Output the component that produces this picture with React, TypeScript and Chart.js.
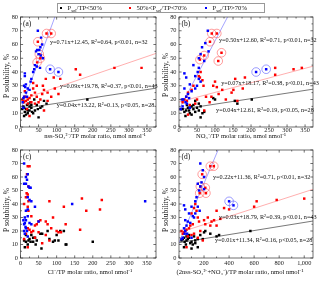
import React, { useEffect, useRef } from "react";
import { Chart, registerables } from "chart.js";
Chart.register(...registerables);

const FONT = "'Liberation Serif', 'Times New Roman', Times, serif";
const W = 320;
const H = 283;

// ---------- tick labels ----------
const Y_TICKS = [0, 10, 20, 30, 40, 50, 60, 70, 80];
const X_TICKS_350 = [0, 50, 100, 150, 200, 250, 300, 350];
const X_TICKS_1000 = [0, 200, 400, 600, 800, 1000];

// ---------- panel (a): nss-SO4 2- / TP ----------
const aBlackX = [5, 8, 10, 10, 12, 15, 15, 18, 20, 20, 22, 25, 25, 28, 30, 30, 32, 35, 38, 40, 45, 48, 50, 55, 60, 65, 72, 185];
const aBlackY = [13, 15, 8, 14, 11, 13, 9, 16, 10, 12, 17, 12, 15, 18, 14, 16, 11, 10, 20, 12, 16, 13, 7, 14, 15, 19, 17, 20];
const aRedX = [48, 72, 85, 52, 55, 46, 153, 165, 260, 335, 92, 105, 110, 85, 95, 75, 65, 60, 62, 70, 45, 40, 35, 30, 25, 20, 15, 12, 10, 8, 5, 30, 40, 50, 55, 75, 45, 35, 18, 25, 12, 20, 65];
const aRedY = [62, 68, 68, 53, 50, 47, 42, 38, 43, 43, 36, 24, 35, 22, 28, 25, 27, 24, 30, 35, 22, 25, 28, 23, 21, 20, 19, 22, 18, 19, 20, 18, 17, 18, 20, 19, 30, 32, 13, 8, 26, 17, 12];
const aBlueX = [48, 57, 60, 55, 52, 46, 43, 50, 56, 62, 40, 45, 38, 35, 12, 12, 54, 30, 28, 15, 10, 13, 20, 25, 15, 10, 8, 18, 6, 8, 82, 105];
const aBlueY = [70, 65, 60, 58, 56, 56, 55, 53, 52, 50, 45, 44, 42, 40, 39, 37, 43, 35, 33, 31, 30, 29, 28, 27, 25, 22, 21, 22, 18, 14, 42, 40];
const aRingRedX = [48, 72, 85, 52, 55, 46];
const aRingRedY = [62, 68, 68, 53, 50, 47];
const aRingBlueX = [82, 105];
const aRingBlueY = [42, 40];
const aSlopes = [0.71, 0.09, 0.04];
const aIntercepts = [12.45, 19.78, 13.22];
const aNotes = ["y=0.71x+12.45, R²=0.64, p<0.01, n=32", "y=0.09x+19.78, R²=0.37, p<0.01, n=43", "y=0.04x+13.22, R²=0.13, p<0.05, n=28"];

// ---------- panel (b): NO3- / TP ----------
const bBlackX = [5, 10, 15, 18, 20, 22, 25, 28, 30, 30, 35, 35, 40, 40, 45, 45, 50, 55, 55, 60, 60, 65, 70, 95, 100, 155, 162, 202];
const bBlackY = [13, 13, 11, 8, 12, 16, 14, 12, 14, 10, 15, 9, 13, 16, 11, 19, 14, 12, 17, 15, 7, 10, 11, 21, 20, 19, 17, 20];
const bRedX = [91, 105, 86, 58, 70, 118, 109, 267, 267, 318, 341, 183, 156, 151, 146, 177, 162, 60, 55, 58, 65, 68, 40, 35, 25, 20, 15, 22, 10, 45, 30, 25, 50, 75, 85, 70, 105, 95, 120, 130, 110, 90, 100];
const bRedY = [68, 68, 62, 49, 52, 54, 48, 43, 38, 42, 43, 36, 35, 27, 25, 28, 19, 40, 37, 36, 34, 30, 30, 27, 25, 22, 20, 19, 18, 17, 16, 9, 20, 22, 18, 12, 29, 30, 27, 20, 24, 22, 33];
const bBlueX = [80, 73, 64, 82, 60, 55, 70, 55, 52, 45, 15, 20, 55, 60, 30, 50, 45, 15, 35, 25, 20, 12, 18, 22, 10, 30, 5, 40, 28, 8, 214, 242];
const bBlueY = [70, 61, 58, 55, 53, 50, 48, 43, 40, 37, 39, 36, 35, 33, 31, 30, 28, 28, 26, 24, 22, 20, 18, 17, 15, 14, 13, 45, 21, 20, 40, 42];
const bRingRedX = [91, 105, 86, 58, 70, 118, 109];
const bRingRedY = [68, 68, 62, 49, 52, 54, 48];
const bRingBlueX = [214, 242];
const bRingBlueY = [40, 42];
const bSlopes = [0.5, 0.07, 0.04];
const bIntercepts = [12.6, 18.17, 12.61];
const bNotes = ["y=0.50x+12.60, R²=0.71, p<0.01, n=32", "y=0.07x+18.17, R²=0.38, p<0.01, n=43", "y=0.04x+12.61, R²=0.19, p<0.05, n=28"];

// ---------- panel (c): Cl- / TP ----------
const cBlackX = [10, 12, 15, 15, 20, 22, 25, 28, 30, 35, 35, 40, 42, 45, 55, 58, 60, 75, 80, 90, 95, 100, 105, 110, 120, 125, 127, 200];
const cBlackY = [13, 8, 12, 17, 10, 13, 14, 12, 17, 12, 15, 15, 10, 13, 18, 7, 18, 20, 14, 12, 13, 17, 13, 20, 20, 10, 10, 12];
const cRedX = [20, 25, 18, 22, 17, 20, 15, 22, 10, 20, 22, 30, 80, 120, 170, 182, 220, 225, 165, 125, 100, 90, 85, 75, 70, 55, 50, 45, 40, 35, 30, 25, 20, 15, 10, 50, 60, 70, 80, 105, 112, 20, 40];
const cRedY = [68, 68, 62, 53, 48, 47, 45, 42, 40, 38, 35, 31, 42, 38, 44, 35, 36, 43, 21, 25, 20, 30, 22, 25, 27, 28, 27, 25, 24, 20, 19, 21, 22, 18, 14, 19, 11, 17, 13, 19, 19, 8, 15];
const cBlueX = [10, 15, 20, 18, 10, 15, 22, 25, 28, 20, 25, 30, 40, 20, 15, 12, 15, 20, 12, 10, 15, 18, 12, 30, 25, 50, 143, 345, 10, 20, 8, 14];
const cBlueY = [70, 60, 62, 58, 55, 55, 53, 52, 52, 45, 43, 42, 38, 36, 35, 30, 28, 31, 26, 25, 22, 20, 18, 25, 26, 27, 40, 42, 20, 16, 28, 23];

// ---------- panel (d): (2nss-SO4 2- + NO3-) / TP ----------
const dBlackX = [20, 30, 40, 40, 45, 55, 60, 60, 70, 80, 80, 90, 100, 100, 110, 120, 130, 130, 150, 150, 170, 190, 200, 210, 250, 300, 320, 570];
const dBlackY = [13, 14, 8, 15, 12, 10, 13, 16, 14, 15, 17, 11, 12, 7, 10, 16, 13, 11, 14, 8, 17, 14, 19, 20, 18, 16, 17, 20];
const dRedX = [250, 278, 185, 170, 210, 165, 215, 620, 600, 780, 1000, 400, 360, 300, 280, 260, 230, 250, 200, 210, 300, 330, 130, 120, 140, 100, 150, 160, 110, 90, 80, 60, 50, 40, 30, 20, 120, 150, 170, 190, 70, 60, 100];
const dRedY = [68, 68, 62, 53, 52, 48, 48, 42, 38, 43, 44, 36, 37, 35, 28, 27, 30, 24, 28, 25, 24, 29, 40, 37, 35, 33, 30, 27, 25, 24, 22, 21, 20, 19, 18, 20, 18, 15, 20, 13, 16, 8, 17];
const dBlueX = [170, 190, 200, 180, 150, 170, 160, 200, 140, 130, 100, 40, 50, 150, 165, 80, 120, 110, 50, 90, 60, 40, 50, 65, 30, 20, 100, 45, 70, 130, 400, 435];
const dBlueY = [70, 65, 60, 56, 55, 53, 50, 51, 45, 42, 38, 39, 36, 38, 35, 33, 30, 31, 28, 26, 24, 22, 20, 18, 15, 14, 15, 18, 27, 33, 42, 39];
const dRingRedX = [250, 278, 185, 170, 210, 165, 215];
const dRingRedY = [68, 68, 62, 53, 52, 48, 48];
const dRingBlueX = [400, 435];
const dRingBlueY = [42, 39];
const dSlopes = [0.22, 0.03, 0.015];
const dIntercepts = [11.36, 18.79, 11.34];
const dNotes = ["y=0.22x+11.36, R²=0.71, p<0.01, n=32", "y=0.03x+18.79, R²=0.39, p<0.01, n=43", "y=0.01x+11.34, R²=0.16, p<0.05, n=28"];

const Y_TITLE = "P solubility, %";

type Area = { l: number; r: number; t: number; b: number };
interface PanelDef {
  label: string;
  area: Area;
  xMax: number;
  xTicks: number[];
  xTitle: string;
  xTitlePos: [number, number];
  yTitlePos: [number, number];
  tickPad: number;
  black: [number[], number[]];
  red: [number[], number[]];
  blue: [number[], number[]];
  ringRed: [number[], number[]];
  ringBlue: [number[], number[]];
  slopes: number[];
  intercepts: number[];
  notes: string[];
  notePos: [number, number][];
}

const TOP: Area = { l: 20.5, r: 156, t: 17, b: 127 };
const TOPR: Area = { l: 179, r: 313, t: 17, b: 127 };
const BOT: Area = { l: 20.5, r: 156, t: 150, b: 258 };
const BOTR: Area = { l: 179, r: 313, t: 150, b: 258 };

const PANELS: PanelDef[] = [
  {
    label: "(a)", area: TOP, xMax: 375, xTicks: X_TICKS_350,
    xTitle: "nss-SO₄²⁻/TP molar ratio, nmol nmol⁻¹", xTitlePos: [95, 136.5], yTitlePos: [7.5, 76],
    tickPad: 0,
    black: [aBlackX, aBlackY], red: [aRedX, aRedY], blue: [aBlueX, aBlueY],
    ringRed: [aRingRedX, aRingRedY], ringBlue: [aRingBlueX, aRingBlueY],
    slopes: aSlopes, intercepts: aIntercepts, notes: aNotes,
    notePos: [[81.6, 61.6], [109, 29.8], [100, 16]],
  },
  {
    label: "(b)", area: TOPR, xMax: 372, xTicks: X_TICKS_350,
    xTitle: "NO₃⁻/TP molar ratio, nmol nmol⁻¹", xTitlePos: [241, 136.5], yTitlePos: [166.5, 75],
    tickPad: 0,
    black: [bBlackX, bBlackY], red: [bRedX, bRedY], blue: [bBlueX, bBlueY],
    ringRed: [bRingRedX, bRingRedY], ringBlue: [bRingBlueX, bRingBlueY],
    slopes: bSlopes, intercepts: bIntercepts, notes: bNotes,
    notePos: [[111, 62.9], [117, 32], [103, 12.4]],
  },
  {
    label: "(c)", area: BOT, xMax: 375, xTicks: X_TICKS_350,
    xTitle: "Cl⁻/TP molar ratio, nmol nmol⁻¹", xTitlePos: [90, 272], yTitlePos: [7.5, 210],
    tickPad: 1.4,
    black: [cBlackX, cBlackY], red: [cRedX, cRedY], blue: [cBlueX, cBlueY],
    ringRed: [[], []], ringBlue: [[], []],
    slopes: [], intercepts: [], notes: [], notePos: [],
  },
  {
    label: "(d)", area: BOTR, xMax: 1070, xTicks: X_TICKS_1000,
    xTitle: "(2nss-SO₄²⁻+NO₃⁻)/TP molar ratio, nmol nmol⁻¹", xTitlePos: [240, 272], yTitlePos: [166.5, 210],
    tickPad: 1.4,
    black: [dBlackX, dBlackY], red: [dRedX, dRedY], blue: [dBlueX, dBlueY],
    ringRed: [dRingRedX, dRingRedY], ringBlue: [dRingBlueX, dRingBlueY],
    slopes: dSlopes, intercepts: dIntercepts, notes: dNotes,
    notePos: [[271, 60], [319, 30.4], [287, 13.3]],
  },
];

const zip = (xs: number[], ys: number[]) => xs.map((x, i) => ({ x, y: ys[i] }));

const framePlugin = {
  id: "frame",
  afterDatasetsDraw(chart: any, _args: any, opts: any) {
    const def: PanelDef = opts.def;
    const { ctx, chartArea: a, scales } = chart;
    const xs = scales.x;
    const ys = scales.y;
    ctx.save();
    ctx.strokeStyle = "#333";
    ctx.lineWidth = 0.7;
    ctx.strokeRect(a.left, a.top, a.right - a.left, a.bottom - a.top);
    const seg = (x1: number, y1: number, x2: number, y2: number) => {
      ctx.beginPath();
      ctx.moveTo(x1, y1);
      ctx.lineTo(x2, y2);
      ctx.stroke();
    };
    const xStep = def.xTicks[1] - def.xTicks[0];
    for (let v = 0; v <= xs.max + 1e-6; v += xStep / 2) {
      const major = Math.abs(v / xStep - Math.round(v / xStep)) < 1e-6;
      const len = major ? 2.6 : 1.5;
      const p = xs.getPixelForValue(v);
      seg(p, a.bottom, p, a.bottom - len);
      seg(p, a.top, p, a.top + len);
    }
    const yStep = Y_TICKS[1] - Y_TICKS[0];
    for (let v = 0; v <= ys.max + 1e-6; v += yStep / 2) {
      const major = Math.abs(v / yStep - Math.round(v / yStep)) < 1e-6;
      const len = major ? 2.6 : 1.5;
      const p = ys.getPixelForValue(v);
      seg(a.left, p, a.left + len, p);
      seg(a.right, p, a.right - len, p);
    }
    ctx.fillStyle = "#111";
    ctx.textBaseline = "middle";
    ctx.textAlign = "left";
    ctx.font = `6.2px ${FONT}`;
    def.notes.forEach((t, i) => {
      const [nx, ny] = def.notePos[i];
      ctx.fillText(t, xs.getPixelForValue(nx), ys.getPixelForValue(ny));
    });
    ctx.font = `7.5px ${FONT}`;
    ctx.fillText(def.label, a.left + 2.5, a.top + 7);
    // axis titles
    ctx.textAlign = "center";
    ctx.font = `6.6px ${FONT}`;
    ctx.fillText(def.xTitle, def.xTitlePos[0], def.xTitlePos[1]);
    ctx.font = `7.5px ${FONT}`;
    ctx.translate(def.yTitlePos[0], def.yTitlePos[1]);
    ctx.rotate(-Math.PI / 2);
    ctx.fillText(Y_TITLE, 0, 0);
    ctx.restore();
  },
};

function PanelChart({ def }: { def: PanelDef }) {
  const ref = useRef<HTMLCanvasElement>(null);
  useEffect(() => {
    const canvas = ref.current;
    if (!canvas) return;
    const yWidth = 18;
    const xHeight = 10;
    const pts = (d: [number[], number[]], color: string) => ({
      type: "scatter",
      data: zip(d[0], d[1]),
      backgroundColor: color,
      borderWidth: 0,
      pointStyle: "rect",
      pointRadius: 1.75,
      order: 0,
    });
    const rings = (d: [number[], number[]], color: string) => ({
      type: "scatter",
      data: zip(d[0], d[1]),
      backgroundColor: "rgba(0,0,0,0)",
      borderColor: color,
      borderWidth: 0.7,
      pointRadius: 4.3,
      order: 1,
    });
    const lineColors = ["#8e8eff", "#ff9a9a", "#555555"];
    const lines = def.slopes.map((s, i) => {
      const b = def.intercepts[i];
      const xEnd = Math.min(def.xMax, (80 - b) / s);
      return {
        type: "line",
        data: [{ x: 0, y: b }, { x: xEnd, y: s * xEnd + b }],
        borderColor: lineColors[i],
        borderWidth: 0.8,
        pointRadius: 0,
        fill: false,
        order: 5,
      };
    });
    const chart = new Chart(canvas, {
      type: "scatter",
      data: {
        datasets: [
          pts(def.blue, "#0000ff"),
          pts(def.red, "#ff0000"),
          pts(def.black, "#000000"),
          rings(def.ringRed, "rgba(255,90,90,0.85)"),
          rings(def.ringBlue, "rgba(90,90,255,0.85)"),
          ...lines,
        ] as any,
      },
      options: {
        animation: false,
        responsive: false,
        devicePixelRatio: 1,
        events: [],
        layout: {
          padding: {
            left: def.area.l - yWidth,
            top: def.area.t,
            right: W - def.area.r,
            bottom: H - def.area.b - xHeight,
          },
        },
        plugins: {
          legend: { display: false },
          tooltip: { enabled: false },
          frame: { def },
        } as any,
        scales: {
          x: {
            type: "linear",
            min: 0,
            max: def.xMax,
            afterBuildTicks: (s: any) => {
              s.ticks = def.xTicks.map((v) => ({ value: v }));
            },
            afterFit: (s: any) => {
              s.height = xHeight;
            },
            grid: { display: false, drawTicks: false, tickLength: 0 },
            border: { display: false },
            ticks: {
              autoSkip: false,
              maxRotation: 0,
              padding: def.tickPad,
              color: "#222",
              font: { family: FONT, size: 6.3 },
            },
            title: { display: false },
          },
          y: {
            type: "linear",
            min: 0,
            max: 80,
            afterBuildTicks: (s: any) => {
              s.ticks = Y_TICKS.map((v) => ({ value: v }));
            },
            afterFit: (s: any) => {
              s.width = yWidth;
            },
            grid: { display: false, drawTicks: false, tickLength: 0 },
            border: { display: false },
            ticks: {
              autoSkip: false,
              padding: 2.5,
              color: "#222",
              font: { family: FONT, size: 6.3 },
            },
            title: { display: false },
          },
        },
      } as any,
      plugins: [framePlugin],
    });
    return () => chart.destroy();
  }, [def]);
  return (
    <canvas
      ref={ref}
      width={W}
      height={H}
      style={{ position: "absolute", left: 0, top: 0, width: W, height: H }}
    />
  );
}

const LEGEND = [
  { color: "#000000", x: 61, pre: "", post: "/TP<50%" },
  { color: "#ff0000", x: 130, pre: "50%<", post: "/TP<70%" },
  { color: "#0000ff", x: 206, pre: "", post: "/TP>70%" },
];

function Legend() {
  return (
    <div>
      <div
        style={{
          position: "absolute",
          left: 57,
          top: 2.5,
          width: 208,
          height: 10.5,
          border: "0.8px solid #999",
          boxSizing: "border-box",
        }}
      />
      {LEGEND.map((it, i) => (
        <React.Fragment key={i}>
          <div
            style={{
              position: "absolute",
              left: it.x - 1.2,
              top: 6.6,
              width: 2.4,
              height: 2.4,
              background: it.color,
            }}
          />
          <div
            style={{
              position: "absolute",
              left: it.x + 6.5,
              top: 2.5,
              height: 10,
              lineHeight: "10px",
              fontFamily: FONT,
              fontSize: 6.6,
              color: "#111",
              whiteSpace: "nowrap",
            }}
          >
            {it.pre}P
            <span style={{ fontSize: 4.6, verticalAlign: -1.5 }}>sol</span>
            {it.post}
          </div>
        </React.Fragment>
      ))}
    </div>
  );
}

export default function App() {
  return (
    <div
      style={{
        position: "fixed",
        left: 0,
        top: 0,
        width: W,
        height: H,
        background: "#fff",
        overflow: "hidden",
      }}
    >
      {PANELS.map((p) => (
        <PanelChart key={p.label} def={p} />
      ))}
      <Legend />
    </div>
  );
}
